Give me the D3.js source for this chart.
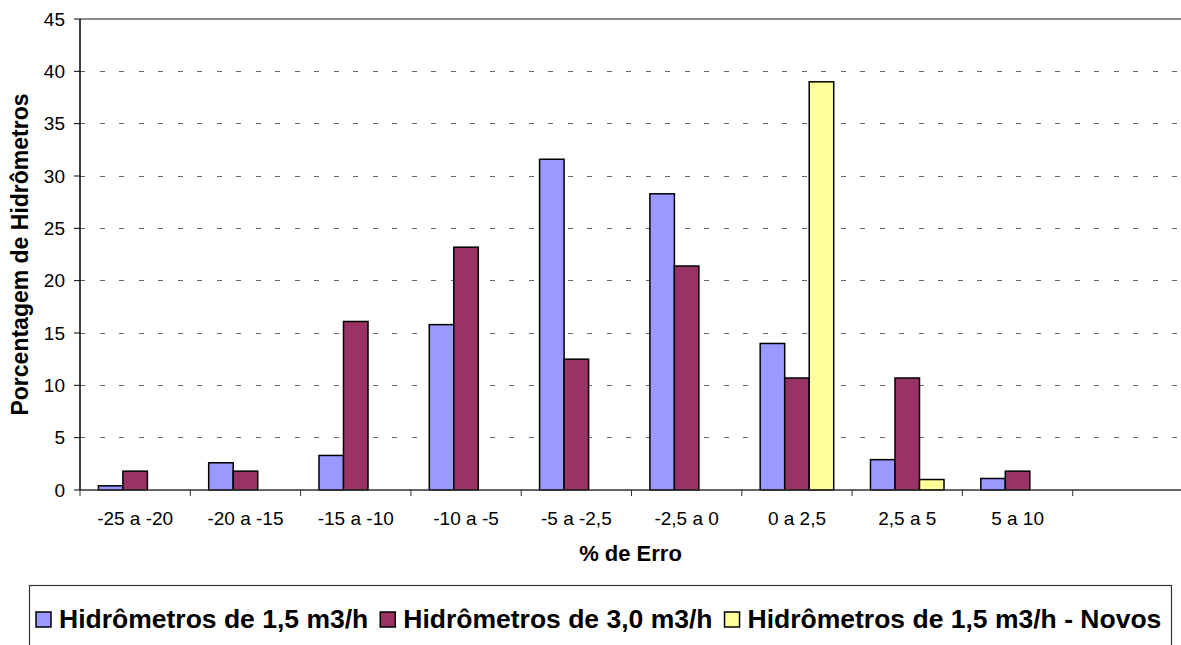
<!DOCTYPE html>
<html>
<head>
<meta charset="utf-8">
<script src="https://cdn.jsdelivr.net/npm/d3@7"></script>
<style>
  body { margin: 0; background: #fff; }
  svg { display: block; font-family: "Liberation Sans", Arial, sans-serif; }
</style>
</head>
<body>
<div id="chart"></div>
<script>
// Faixas de erro (eixo x)
const categories = ["-25 a -20", "-20 a -15", "-15 a -10", "-10 a -5", "-5 a -2,5", "-2,5 a 0", "0 a 2,5", "2,5 a 5", "5 a 10"];
const seriesNames = ["Hidrômetros de 1,5 m3/h", "Hidrômetros de 3,0 m3/h", "Hidrômetros de 1,5 m3/h - Novos"];
const hidro15 = [0.4, 2.6, 3.3, 15.8, 31.6, 28.3, 14.0, 2.9, 1.1];
const hidro30 = [1.8, 1.8, 16.1, 23.2, 12.5, 21.4, 10.7, 10.7, 1.8];
const hidro15Novos = [null, null, null, null, null, null, 39.0, 1.0, null];
const yTicks = [0, 5, 10, 15, 20, 25, 30, 35, 40, 45];
const colors = ["#9999FF", "#993366", "#FFFF99"];

const W = 1181, H = 645;
const margin = { top: 19, right: -2, bottom: 155, left: 80 };
const width = W - margin.left - margin.right;
const height = H - margin.top - margin.bottom;

const svg = d3.select("#chart").append("svg")
    .attr("width", W)
    .attr("height", H);

const g = svg.append("g")
    .attr("transform", `translate(${margin.left},${margin.top})`);

// one empty slot at the end, like the original
const xScale = d3.scaleBand()
    .domain(categories.concat(["__vazio"]))
    .range([0, width])
    .padding(0);

const xInner = d3.scaleBand()
    .domain(d3.range(seriesNames.length))
    .range([0, xScale.bandwidth()])
    .paddingInner(0)
    .paddingOuter(0.75);

const yScale = d3.scaleLinear()
    .domain([0, 45])
    .range([height, 0]);

// Gridlines
g.append("g")
    .selectAll("line")
    .data(yTicks.filter(d => d > 0))
    .enter()
    .append("line")
    .attr("x1", 0)
    .attr("x2", width)
    .attr("y1", d => yScale(d))
    .attr("y2", d => yScale(d))
    .attr("stroke", d => d === 45 ? "#8c8c8c" : "#666")
    .attr("stroke-width", d => d === 45 ? 1.2 : 1)
    .attr("stroke-dasharray", d => d === 45 ? null : "5,14.5")
    .attr("shape-rendering", "crispEdges");

// Bars
const series = [hidro15, hidro30, hidro15Novos];
series.forEach((vals, si) => {
    g.append("g")
        .selectAll("rect")
        .data(vals.map((v, i) => ({ key: categories[i], value: v })).filter(d => d.value !== null))
        .enter()
        .append("rect")
        .attr("x", d => xScale(d.key) + xInner(si))
        .attr("y", d => yScale(d.value))
        .attr("width", xInner.bandwidth())
        .attr("height", d => height - yScale(d.value))
        .attr("fill", colors[si])
        .attr("stroke", "#000")
        .attr("stroke-width", 1.5);
});

// X axis
const xAxis = g.append("g")
    .attr("transform", `translate(0,${height})`);
xAxis.append("line")
    .attr("x1", 0).attr("x2", width)
    .attr("stroke", "#333").attr("stroke-width", 1.5);
xAxis.selectAll(".tk")
    .data(xScale.domain())
    .enter()
    .append("line")
    .attr("x1", d => xScale(d)).attr("x2", d => xScale(d))
    .attr("y1", 0).attr("y2", 6)
    .attr("stroke", "#333");
xAxis.selectAll("text")
    .data(categories)
    .enter()
    .append("text")
    .attr("x", d => xScale(d) + xScale.bandwidth() / 2)
    .attr("y", 35)
    .attr("text-anchor", "middle")
    .style("font-size", "19px")
    .attr("fill", "#000")
    .text(d => d);

// Y axis
const yAxis = g.append("g");
yAxis.append("line")
    .attr("y1", 0).attr("y2", height)
    .attr("stroke", "#000").attr("stroke-width", 1.5);
yAxis.selectAll(".tk")
    .data(yTicks)
    .enter()
    .append("line")
    .attr("x1", -6).attr("x2", 0)
    .attr("y1", d => yScale(d)).attr("y2", d => yScale(d))
    .attr("stroke", "#000");
yAxis.selectAll("text")
    .data(yTicks)
    .enter()
    .append("text")
    .attr("x", -15)
    .attr("y", d => yScale(d))
    .attr("dy", "0.35em")
    .attr("text-anchor", "end")
    .style("font-size", "19px")
    .text(d => d);

// Axis titles
svg.append("text")
    .attr("x", margin.left + (W - margin.left) / 2)
    .attr("y", 561)
    .attr("text-anchor", "middle")
    .style("font-size", "22px")
    .style("font-weight", "bold")
    .text("% de Erro");

svg.append("text")
    .attr("transform", `translate(28,${margin.top + height / 2}) rotate(-90)`)
    .attr("text-anchor", "middle")
    .style("font-size", "23px")
    .style("font-weight", "bold")
    .text("Porcentagem de Hidrômetros");

// Legend
const legend = svg.append("g");
legend.append("rect")
    .attr("x", 29.5).attr("y", 585.5)
    .attr("width", 1142).attr("height", 80)
    .attr("fill", "#fff")
    .attr("stroke", "#333")
    .attr("stroke-width", 1.2);

let cx = 36;
seriesNames.forEach((name, i) => {
    legend.append("rect")
        .attr("x", cx).attr("y", 612)
        .attr("width", 15).attr("height", 15)
        .attr("fill", colors[i])
        .attr("stroke", "#000")
        .attr("stroke-width", 1.5);
    const t = legend.append("text")
        .attr("x", cx + 23)
        .attr("y", 628)
        .style("font-size", "26.5px")
        .style("font-weight", "bold")
        .text(name);
    cx += 23 + t.node().getComputedTextLength() + 12;
});
</script>
</body>
</html>
